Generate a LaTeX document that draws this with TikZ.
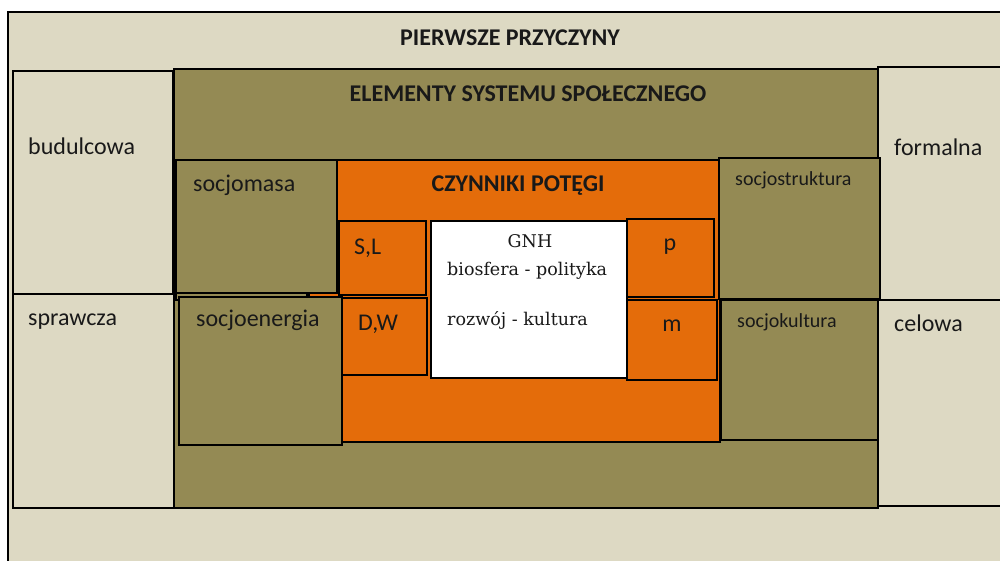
\documentclass[tikz,border=0pt]{standalone}
\usepackage{fontspec}
\setmainfont{Carlito}
\newfontfamily\gnhfont{DejaVu Serif}
\definecolor{beige}{HTML}{DDD9C3}
\definecolor{olive}{HTML}{948A54}
\definecolor{orng}{HTML}{E46C0A}
\tikzset{
  box/.style={draw=black, line width=1.2pt},
  lab/.style={inner sep=0pt, anchor=base west, font=\fontsize{24}{28}\selectfont, text=black!90},
  labc/.style={inner sep=0pt, anchor=base, font=\fontsize{24}{28}\selectfont, text=black!90},
  small/.style={inner sep=0pt, anchor=base west, font=\fontsize{20}{24}\selectfont, text=black!90},
  title/.style={inner sep=0pt, anchor=base, font=\fontsize{24}{28}\selectfont\bfseries, text=black!90},
  ser/.style={inner sep=0pt, font=\gnhfont\fontsize{17.5}{21}\selectfont, text=black!90},
}
\begin{document}
\begin{tikzpicture}[x=1pt,y=-1pt]
\useasboundingbox (0,0) rectangle (1000,560);
\clip (0,0) rectangle (1000,560);
\fill[white] (0,0) rectangle (1000,560);
% outer
\draw[box, fill=beige] (8,12) rectangle (1020,580);
% left column
\draw[box, fill=beige] (13,71) rectangle (173,294);
\draw[box, fill=beige] (13,294) rectangle (174,508);
% elementy
\draw[box, fill=olive] (174,69) rectangle (878,508);
% right column
\draw[box, fill=beige] (878,67) rectangle (1020,300);
\draw[box, fill=beige] (878,300) rectangle (1020,506);
% czynniki
\draw[box, fill=orng] (309,160) rectangle (720,442);
\draw[box, fill=olive] (176,160) rectangle (337,293);
\draw[box, fill=olive] (176,293) rectangle (307,300);
\draw[box, fill=olive] (179,297) rectangle (342,445);
\draw[box, fill=olive] (719,158) rectangle (880,299);
\draw[box, fill=olive] (721,300) rectangle (878,440);
\draw[box, fill=orng] (339,221) rectangle (426,295);
\draw[box, fill=orng] (342,298) rectangle (427,375);
\draw[box, fill=white] (431,221) rectangle (627,378);
\draw[box, fill=orng] (627,219) rectangle (714,297);
\draw[box, fill=orng] (627,300) rectangle (717,380);
% texts
\node[title] (t1) at (510,45) {PIERWSZE PRZYCZYNY};
\node[title] (t2) at (528,101) {ELEMENTY SYSTEMU SPOŁECZNEGO};
\node[title] (t3) at (518,191) {CZYNNIKI POTĘGI};
\node[lab] (bud) at (28,154.5) {budulcowa};
\node[lab] (spr) at (28,325) {sprawcza};
\node[lab] (form) at (894,155.5) {formalna};
\node[lab] (cel) at (894,331.5) {celowa};
\node[lab] (sm) at (193,191.5) {socjomasa};
\node[lab] (se) at (196,326.5) {socjoenergia};
\node[small] (ss) at (735,185.5) {socjostruktura};
\node[small] (sk) at (737,327) {socjokultura};
\node[lab] (sl) at (354,254) {S,L};
\node[lab] (dw) at (358,330.5) {D,W};
\node[labc] (p) at (670,250) {p};
\node[labc] (m) at (672,331.5) {m};
\node[ser, anchor=base] (gnh) at (530,247) {GNH};
\node[ser, anchor=base west] (bp) at (447,275) {biosfera - polityka};
\node[ser, anchor=base west] (rk) at (447,325) {rozwój - kultura};
\end{tikzpicture}
\end{document}
